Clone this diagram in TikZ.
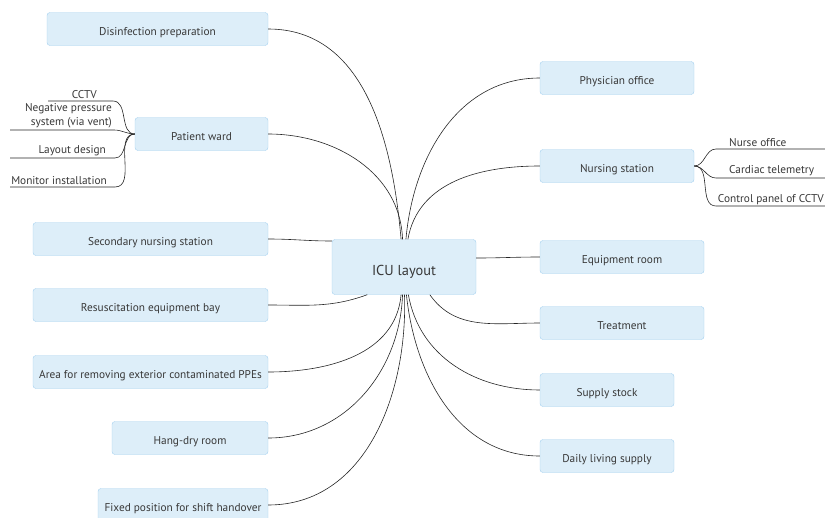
\documentclass[tikz,border=0pt]{standalone}
\usepackage{fontspec}
\setmainfont{PT Sans}
\usetikzlibrary{positioning,calc}

\definecolor{boxfill}{HTML}{DDEEF9}
\definecolor{boxline}{HTML}{A4D0EF}
\definecolor{ink}{HTML}{383838}

\tikzset{
  topic/.style={draw=boxline, fill=boxfill, rounded corners=3pt, text=ink,
    font=\fontsize{11.3}{13}\selectfont, minimum height=33pt, inner sep=0pt,
    text height=13pt, text depth=0pt},
  leaf/.style={text=ink, font=\fontsize{11.3}{13}\selectfont, align=right,
    inner sep=2pt},
  conn/.style={draw=black!85, line width=0.6pt}
}

\begin{document}
\begin{tikzpicture}[x=1pt,y=-1pt]

\useasboundingbox (0,0) rectangle (825,517);

%Central topic
\node [topic, minimum width=144pt, minimum height=55pt,
  font=\fontsize{14.4}{16}\selectfont, text height=16pt] (icu) at (404,267) {ICU layout};

%Left topics
\node [topic, minimum width=221pt] (dis) at (157.5,29) {Disinfection preparation};
\node [topic, minimum width=133pt] (pw)  at (201.5,134) {Patient ward};
\node [topic, minimum width=235pt] (sns) at (150.5,239) {Secondary nursing station};
\node [topic, minimum width=235pt] (reb) at (150.5,305) {Resuscitation equipment bay};
\node [topic, minimum width=235pt] (ppe) at (150.5,372) {Area for removing exterior contaminated PPEs};
\node [topic, minimum width=156pt] (hdr) at (190,438) {Hang-dry room};
\node [topic, minimum width=170pt] (fps) at (183,505) {Fixed position for shift handover};

%Right topics
\node [topic, minimum width=154pt] (phy) at (617,78)  {Physician office};
\node [topic, minimum width=154pt] (nst) at (617,166) {Nursing station};
\node [topic, minimum width=164pt] (eqr) at (622,257) {Equipment room};
\node [topic, minimum width=164pt] (trt) at (622,323) {Treatment};
\node [topic, minimum width=134pt] (sup) at (607,390) {Supply stock};
\node [topic, minimum width=134pt] (dls) at (607,456) {Daily living supply};

%Connectors to the central topic
\draw [conn] (dis.east) to[out=0,in=95]  (icu.96);
\draw [conn] (pw.east)  to[out=0,in=92]  (icu.93);
\draw [conn] (phy.west) to[out=180,in=85] (icu.86);
\draw [conn] (nst.west) to[out=180,in=80] (icu.82);
\draw [conn] (sns.east) to[out=0,in=180] ($(icu.west)+(0,-26)$);
\draw [conn] (reb.east) to[out=0,in=200] (icu.217);
\draw [conn] (ppe.east) to[out=0,in=265] (icu.264);
\draw [conn] (hdr.east) to[out=0,in=268] (icu.267);
\draw [conn] (fps.east) to[out=0,in=272] (icu.271);
\draw [conn] (eqr.west) to[out=180,in=0] ($(icu.east)+(0,-9)$);
\draw [conn] (trt.west) to[out=180,in=305] (icu.313);
\draw [conn] (sup.west) to[out=180,in=280] (icu.279);
\draw [conn] (dls.west) to[out=180,in=276] (icu.275);

%Patient ward details
\node [leaf, anchor=south east] (cctv) at (99,101) {CCTV};
\node [leaf, anchor=south east, font=\fontsize{11.3}{14}\selectfont]
  (neg) at (114,130) {Negative pressure\\system (via vent)};
\node [leaf, anchor=south east] (lay) at (108,158) {Layout design};
\node [leaf, anchor=south east] (mon) at (109,187) {Monitor installation};

\coordinate (cctv-end) at (48,101);
\coordinate (neg-end)  at (10,130);
\coordinate (lay-end)  at (10,158);
\coordinate (mon-end)  at (10,187);

\draw [conn] (pw.west) to[out=180,in=0] (113,101) -- (cctv-end);
\draw [conn] (pw.west) to[out=180,in=0] (114,130) -- (neg-end);
\draw [conn] (pw.west) to[out=180,in=0] (115,158) -- (lay-end);
\draw [conn] (pw.west) to[out=180,in=0] (115,187) -- (mon-end);

%Nursing station details
\node [leaf, anchor=south west] (nof) at (727,149) {Nurse office};
\node [leaf, anchor=south west] (cat) at (727,178) {Cardiac telemetry};
\node [leaf, anchor=south east, inner sep=1pt] (cpc) at (825,206) {Control panel of CCTV};

\coordinate (nof-end) at (830,149);
\coordinate (cat-end) at (830,178);
\coordinate (cpc-end) at (830,206);

\draw [conn] (nst.east) to[out=0,in=180] (716,149) -- (nof-end);
\draw [conn] (nst.east) to[out=0,in=180] (716,178) -- (cat-end);
\draw [conn] (nst.east) to[out=0,in=180] (716,206) -- (cpc-end);

\end{tikzpicture}
\end{document}
